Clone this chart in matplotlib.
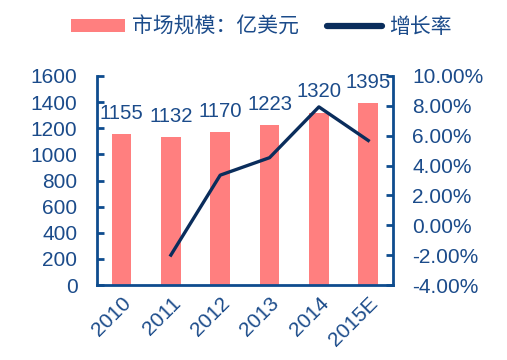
import matplotlib.pyplot as plt
from matplotlib.ticker import FuncFormatter

plt.rcParams['font.family'] = ['Liberation Sans', 'Noto Sans CJK SC', 'DejaVu Sans']

years = ['2010', '2011', '2012', '2013', '2014', '2015E']
market = [1155, 1132, 1170, 1223, 1320, 1395]  # 亿美元
growth = [None, -1.99, 3.36, 4.53, 7.93, 5.68]  # %

bar_color = '#FF7F7F'
line_color = '#0A2D5C'
text_color = '#1B4B8A'
spine_color = '#0E4C8E'
fs = 15

fig = plt.figure(figsize=(5.07, 3.6), dpi=100)
ax = fig.add_axes([0.191, 0.208, 0.584, 0.581])
ax2 = ax.twinx()

x = list(range(len(years)))
bars = ax.bar(x, market, width=0.4, color=bar_color, zorder=2)
for xi, v in zip(x, market):
    ax.annotate(str(v), (xi, v), xytext=(0, 8), textcoords='offset points',
                ha='center', va='bottom', fontsize=14.6, color=text_color)

# no growth value for the first year
gx = [xi for xi, g in zip(x, growth) if g is not None]
gy = [g for g in growth if g is not None]
line, = ax2.plot(gx, gy, color=line_color, lw=2.4)

ax.set_xlim(-0.5, 5.5)
ax.set_ylim(0, 1600)
ax.set_yticks(range(0, 1601, 200))
ax2.set_ylim(-4, 10)
ax2.set_yticks(range(-4, 11, 2))
ax2.yaxis.set_major_formatter(FuncFormatter(lambda v, p: '%.2f%%' % v))

ax.set_xticks(x)
ax.set_xticklabels(years, rotation=45, ha='right', va='top', rotation_mode='anchor')

for a in (ax, ax2):
    a.spines['top'].set_visible(False)
    for s in ('left', 'right', 'bottom'):
        a.spines[s].set_color(spine_color)
        a.spines[s].set_linewidth(2)
    a.tick_params(axis='y', direction='in', length=5, width=2, color=spine_color,
                  labelsize=fs, labelcolor=text_color, pad=14)
ax.tick_params(axis='x', length=0, labelsize=fs, labelcolor=text_color, pad=6)
ax.spines['right'].set_visible(False)
ax2.spines['left'].set_visible(False)
ax2.spines['bottom'].set_visible(False)

leg = fig.legend([bars, line], ['市场规模：亿美元', '增长率'], loc='center', bbox_to_anchor=(0.515, 0.925),
                 ncol=2, frameon=False, labelcolor=text_color,
                 handlelength=2.6, handleheight=0.55, handletextpad=0.35, columnspacing=1.35,
                 prop={'family': ['Noto Sans CJK SC'], 'size': fs})
lh = leg.legend_handles[1]
lh.set_linewidth(4.5)
lh.set_solid_capstyle('round')

fig.savefig('out.png', dpi=100)
